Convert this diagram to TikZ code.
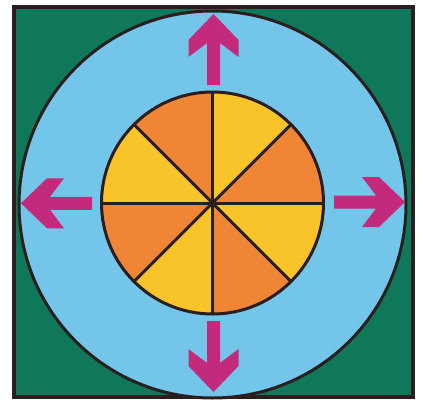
\documentclass[tikz,border=0pt]{standalone}
\definecolor{bggreen}{HTML}{10785A}
\definecolor{skyblue}{HTML}{74C5EA}
\definecolor{pieorange}{HTML}{EE8635}
\definecolor{pieyellow}{HTML}{F8C42A}
\definecolor{arrowmag}{HTML}{C42A7C}
\definecolor{outline}{HTML}{2A1E1E}
\tikzset{
  bigarrow/.pic={
    \fill[arrowmag] (0,0) -- (25,26) -- (25,43) -- (6.5,29) -- (6.5,71)
      -- (-6.5,71) -- (-6.5,29) -- (-25,43) -- (-25,26) -- cycle;
  },
  thickline/.style={draw=outline, line width=3pt},
}
\begin{document}
\begin{tikzpicture}[x=1pt,y=-1pt]
\useasboundingbox (0,0) rectangle (423,399);
\fill[white] (0,0) rectangle (423,399);
\coordinate (c) at (212.5,203);
\coordinate (oc) at (212.5,204.5);
% green square
\draw[fill=bggreen, draw=outline, line width=4pt] (14,7) rectangle (413,397);
% blue disc
\draw[fill=skyblue, thickline] (oc) circle[radius=193.5];
% pie slices
\foreach \a/\col in {0/pieyellow,45/pieorange,90/pieyellow,135/pieorange,180/pieyellow,225/pieorange,270/pieyellow,315/pieorange}
  \fill[\col] (c) -- +(\a:111) arc[start angle=\a, delta angle=45, radius=111] -- cycle;
\foreach \a in {0,45,90,135}
  \draw[thickline] (c) +(\a:111) -- +(\a+180:111);
\draw[thickline] (c) circle[radius=111];
\fill[outline] (c) circle[radius=4];
% arrows
\coordinate (tu) at (213.5,14);
\coordinate (td) at (213.5,392);
\coordinate (tl) at (21,203.3);
\coordinate (tr) at (405,202);
\pic at (tu) {bigarrow};
\pic[rotate=180] at (td) {bigarrow};
\pic[rotate=90] at (tl) {bigarrow};
\pic[rotate=-90] at (tr) {bigarrow};
\end{tikzpicture}
\end{document}
